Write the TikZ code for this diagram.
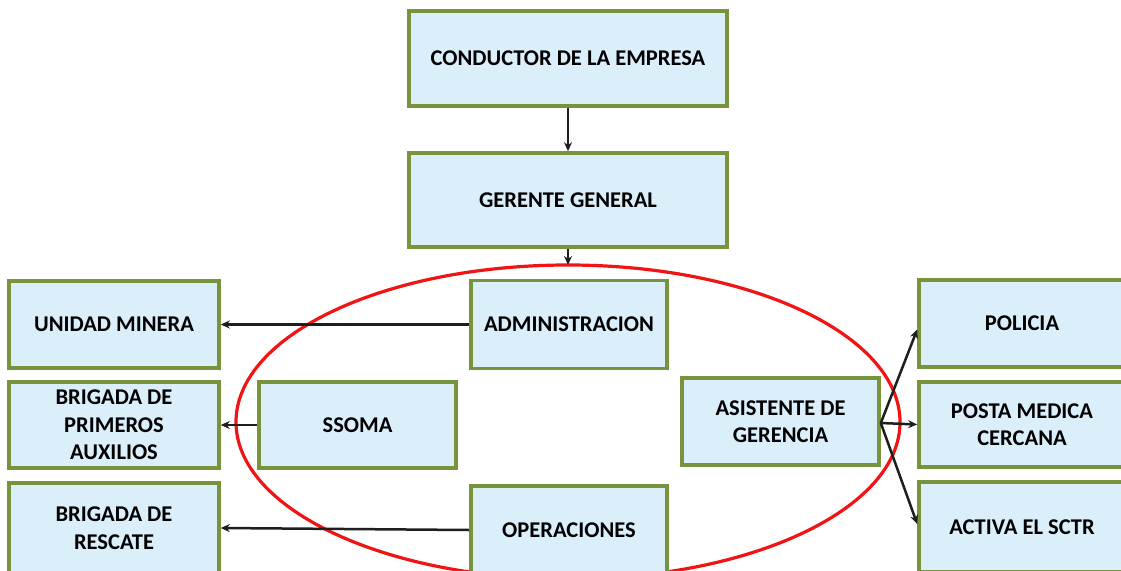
\documentclass[tikz,border=0pt]{standalone}
\usepackage{fontspec}
\setmainfont{Carlito}
\usetikzlibrary{arrows.meta}
\definecolor{boxfill}{RGB}{219,239,250}
\definecolor{boxline}{RGB}{119,147,60}
\definecolor{arrowc}{RGB}{30,30,30}
\definecolor{ellred}{RGB}{240,20,20}
\tikzset{
  box/.style={draw=boxline, fill=boxfill, line width=3.6pt, align=center,
    font=\fontsize{22.5}{27.5}\selectfont\bfseries, inner sep=0pt},
  conn/.style={draw=arrowc, line width=2.5pt, -{Stealth[length=9pt,width=8pt]}},
}
\begin{document}
\begin{tikzpicture}[x=1pt,y=-1pt]
\useasboundingbox (0,0) rectangle (1121,570);
\fill[white] (0,0) rectangle (1121,570);
% ellipse
\draw[ellred, line width=3.2pt] (568,422) ellipse [x radius=332, y radius=157];
\coordinate (etop) at (568,265);
% boxes
\node[box, minimum width=318pt, minimum height=95pt] (cond) at (568,58.5) {CONDUCTOR DE LA EMPRESA};
\node[box, minimum width=318pt, minimum height=94pt] (ger) at (568,200) {GERENTE GENERAL};
\node[box, minimum width=210pt, minimum height=87pt] (um) at (114,324.5) {UNIDAD MINERA};
\node[box, minimum width=210pt, minimum height=86pt] (bpa) at (114,425) {BRIGADA DE\\PRIMEROS\\AUXILIOS};
\node[box, minimum width=210pt, minimum height=90pt] (bres) at (114,528) {BRIGADA DE\\RESCATE};
\node[box, minimum width=197pt, minimum height=86pt] (ssoma) at (357.5,425) {SSOMA};
\node[box, minimum width=196pt, minimum height=88pt] (adm) at (569,324.5) {ADMINISTRACION};
\node[box, minimum width=196pt, minimum height=88pt] (ope) at (569,530) {OPERACIONES};
\node[box, minimum width=197pt, minimum height=87pt] (asis) at (780.5,421.5) {ASISTENTE DE\\GERENCIA};
\node[box, minimum width=206pt, minimum height=87pt] (pol) at (1022,323.5) {POLICIA};
\node[box, minimum width=206pt, minimum height=85pt] (posta) at (1022,424.5) {POSTA MEDICA\\CERCANA};
\node[box, minimum width=206pt, minimum height=90pt] (act) at (1022,527) {ACTIVA EL SCTR};
% connectors
\draw[conn] (cond.south) -- (ger.north);
\draw[conn] (ger.south) -- (etop);
\draw[conn] (adm.west) -- (um.east);
\draw[conn] (ssoma.west) -- (bpa.east);
\draw[conn] (ope.west) -- (bres.east);
\draw[conn] ([yshift=-1.5pt]asis.east) -- ([yshift=-6pt]pol.west);
\draw[conn] ([yshift=-1.5pt]asis.east) -- (posta.west);
\draw[conn] ([yshift=-1.5pt]asis.east) -- ([yshift=3pt]act.west);
\end{tikzpicture}
\end{document}
